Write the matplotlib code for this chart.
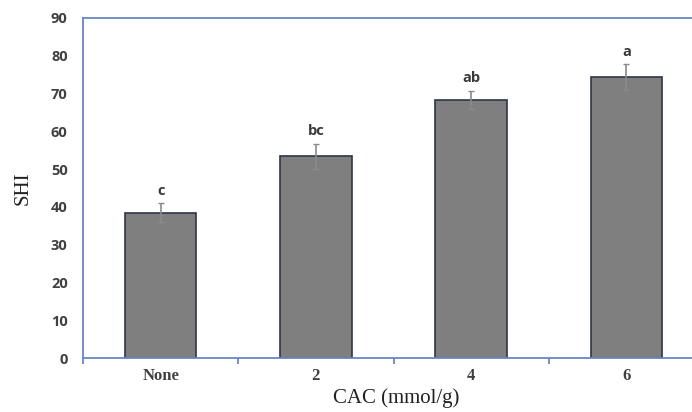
import matplotlib
matplotlib.use("Agg")
import matplotlib.pyplot as plt

categories = ["None", "2", "4", "6"]
values = [38.5, 53.4, 68.3, 74.3]
errors = [2.4, 3.3, 2.4, 3.4]
letters = ["c", "bc", "ab", "a"]
yticks = [0, 10, 20, 30, 40, 50, 60, 70, 80, 90]

fig = plt.figure(figsize=(6.92, 4.12), dpi=100)
ax = fig.add_axes([83/692, 1-358/412, (704-83)/692, (358-18)/412])

x = list(range(len(categories)))
ax.bar(x, values, width=0.46, color="#7f7f7f", edgecolor="#2e3545", linewidth=1.2, zorder=2)
ax.errorbar(x, values, yerr=errors, fmt="none", ecolor="#8a8a8a", elinewidth=1.2,
            capsize=2, capthick=1, zorder=3)
for xi, v, e, l in zip(x, values, errors, letters):
    ax.annotate(l, (xi, v + e), xytext=(0, 4), textcoords="offset points",
                ha="center", va="bottom", fontsize=10.5, fontweight="bold",
                color="#3a3a3a", family="Open Sans")

ax.set_xlim(-0.5, 3.5)
ax.set_ylim(0, 90)
ax.set_yticks(yticks)
ax.set_yticklabels([str(t) for t in yticks], fontsize=10.5, fontweight="bold",
                   color="#404040", family="Open Sans")
ax.tick_params(axis="y", length=0, pad=11)

ax.set_xticks(x)
ax.set_xticklabels(categories, fontsize=12, fontweight="bold", color="#404040",
                   family="Liberation Serif")
ax.set_xticks([-0.5, 0.5, 1.5, 2.5, 3.5], minor=True)
ax.tick_params(axis="x", which="major", length=0, pad=7)
ax.tick_params(axis="x", which="minor", length=4, direction="out", color="#5b7dc0", width=1.2)

spine_c = "#6a86c6"
for s in ["left", "bottom", "top", "right"]:
    ax.spines[s].set_color(spine_c)
    ax.spines[s].set_linewidth(1.3)

ax.set_ylabel("SHI", fontsize=15, family="Liberation Serif", color="#222222")
ax.yaxis.set_label_coords((33-83)/(704-83), 0.5)
ax.set_xlabel("CAC (mmol/g)", fontsize=15, family="Liberation Serif", color="#222222")
ax.xaxis.set_label_coords((396-83)/(704-83), -0.09)

fig.savefig("out.png", dpi=100)
